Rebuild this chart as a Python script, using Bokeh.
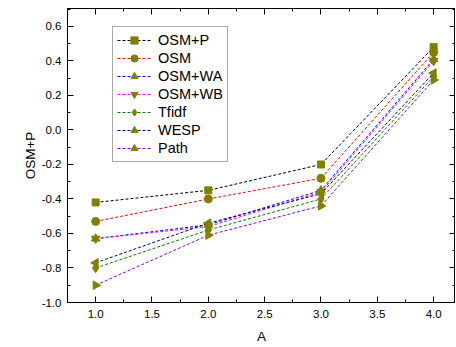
import math
from bokeh.plotting import figure
from bokeh.models import (LinearAxis, Range1d, Legend, LegendItem, FixedTicker,
                          PrintfTickFormatter)
from bokeh.embed import file_html
from bokeh.resources import INLINE

x_vals = [1.0, 2.0, 3.0, 4.0]
osm_p = [-0.42, -0.35, -0.20, 0.48]
osm = [-0.53, -0.40, -0.28, 0.45]
osm_wa = [-0.63, -0.55, -0.35, 0.41]
osm_wb = [-0.63, -0.56, -0.36, 0.40]
tfidf = [-0.80, -0.58, -0.40, 0.31]
wesp = [-0.77, -0.54, -0.37, 0.33]
path = [-0.90, -0.61, -0.44, 0.29]

series_names = ["OSM+P", "OSM", "OSM+WA", "OSM+WB", "Tfidf", "WESP", "Path"]
series_vals = [osm_p, osm, osm_wa, osm_wb, tfidf, wesp, path]
line_colors = ["#000000", "#ff0000", "#0000ff", "#ff00ff", "#008000", "#000080", "#8000ff"]
markers = ["square", "circle", "triangle", "inverted_triangle", "diamond", "triangle", "triangle"]
angles = [0, 0, 0, 0, 0, math.pi / 2, -math.pi / 2]
sizes = [7, 8, 8.5, 8.5, 9.5, 8.5, 8.5]
marker_color = "#808000"

FONT = "Liberation Sans"

p = figure(frame_width=388, frame_height=294, output_backend="svg", toolbar_location=None,
           x_range=Range1d(0.75, 4.194), y_range=Range1d(-1.0, 0.704),
           min_border_left=67, min_border_right=0, min_border_top=8, min_border_bottom=0,
           x_axis_label="A", y_axis_label="OSM+P")
p.grid.visible = False
p.outline_line_color = "#000000"
p.outline_line_width = 1
p.background_fill_color = "white"
p.border_fill_color = "white"

xt = FixedTicker(ticks=[1.0, 1.5, 2.0, 2.5, 3.0, 3.5, 4.0],
                 minor_ticks=[0.75, 1.25, 1.75, 2.25, 2.75, 3.25, 3.75])
yt = FixedTicker(ticks=[-1.0, -0.8, -0.6, -0.4, -0.2, 0.0, 0.2, 0.4, 0.6],
                 minor_ticks=[-0.9, -0.7, -0.5, -0.3, -0.1, 0.1, 0.3, 0.5, 0.7])


def style_axis(ax, ticker, labels=True):
    ax.ticker = ticker
    ax.axis_line_color = "#000000"
    ax.major_tick_in = 6
    ax.major_tick_out = 0
    ax.minor_tick_in = 3
    ax.minor_tick_out = 0
    ax.major_tick_line_color = "#000000"
    ax.minor_tick_line_color = "#000000"
    if labels:
        ax.formatter = PrintfTickFormatter(format="%.1f")
        ax.major_label_text_font = FONT
        ax.major_label_text_font_size = "11.5px"
        ax.major_label_text_color = "#000000"
        ax.axis_label_text_font = FONT
        ax.axis_label_text_font_size = "13.5px"
        ax.axis_label_text_font_style = "normal"
        ax.axis_label_text_color = "#000000"
    else:
        ax.major_label_text_font_size = "0px"
        ax.major_label_text_color = None
        ax.major_label_standoff = 0


style_axis(p.xaxis[0], xt)
style_axis(p.yaxis[0], yt)
p.xaxis[0].major_label_standoff = 7
p.xaxis[0].axis_label_standoff = 8
p.yaxis[0].major_label_standoff = 6
p.yaxis[0].axis_label_standoff = 1

top_ax = LinearAxis()
style_axis(top_ax, xt, labels=False)
p.add_layout(top_ax, "above")
right_ax = LinearAxis()
style_axis(right_ax, yt, labels=False)
p.add_layout(right_ax, "right")

items = []
for name, vals, lc, mk, ang, sz in zip(series_names, series_vals, line_colors, markers, angles, sizes):
    lr = p.line(x_vals, vals, line_color=lc, line_width=1, line_dash="3 2")
    sr = p.scatter(x_vals, vals, marker=mk, angle=ang, size=sz,
                   fill_color=marker_color, line_color=marker_color)
    items.append(LegendItem(label=name, renderers=[lr, sr]))

legend = Legend(items=items, location=(45, 140))
legend.label_text_font = FONT
legend.label_text_font_size = "14.5px"
legend.label_text_color = "#000000"
legend.glyph_width = 34
legend.glyph_height = 18
legend.label_height = 18
legend.label_standoff = 7
legend.spacing = 0
legend.padding = 4
legend.margin = 0
legend.border_line_color = "#555555"
legend.border_line_width = 1
legend.background_fill_color = "white"
p.add_layout(legend, "center")

open("out.html", "w").write(file_html(p, INLINE))
